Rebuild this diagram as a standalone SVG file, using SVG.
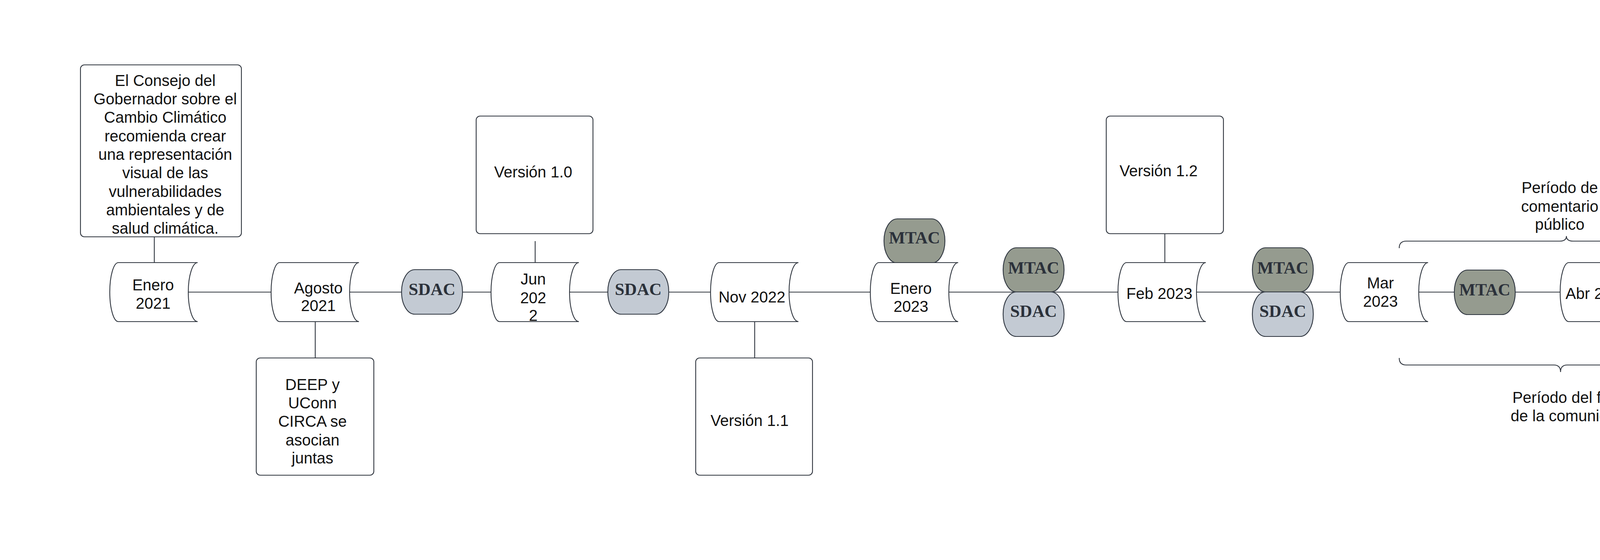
<svg xmlns="http://www.w3.org/2000/svg" xmlns:xlink="http://www.w3.org/1999/xlink" width="5803" height="1433" viewBox="0 0 5803 1433">
<style>
.ln{stroke:#30363f;stroke-width:2.2;fill:none}
.box{fill:#fff;stroke:#30363f;stroke-width:2.2}
.t{font-family:"Liberation Sans",Arial,sans-serif;font-size:40px;fill:#111;text-anchor:middle}
.pt{font-family:"Liberation Serif","Times New Roman",serif;font-weight:bold;font-size:44px;fill:#2b313a;text-anchor:middle}
.mtac{fill:#959b8f;stroke:#2f3640;stroke-width:2.2}
.sdac{fill:#c3cad3;stroke:#2f3640;stroke-width:2.2}
</style>
<defs>
<path id="sd" d="M22,0 H225 A24 75.5 0 0 0 225,151 H22 A22 75.5 0 0 1 22,0 Z" fill="#fff" stroke="#30363f" stroke-width="2.2"/>
<marker id="arr" markerUnits="userSpaceOnUse" markerWidth="32" markerHeight="24" refX="16" refY="11" orient="auto">
<path d="M0,0 L30,11 L0,22 Z" fill="#2b313b"/>
</marker>
</defs>
<rect width="5803" height="1433" fill="#fff"/>
<g id="connectors">
<line class="ln" x1="483" y1="747.5" x2="5590" y2="747.5" marker-end="url(#arr)"/>
<line class="ln" x1="395" y1="606" x2="395" y2="672"/>
<line class="ln" x1="807" y1="823" x2="807" y2="916"/>
<line class="ln" x1="1370" y1="617" x2="1370" y2="672"/>
<line class="ln" x1="1932" y1="823" x2="1932" y2="916"/>
<line class="ln" x1="2982" y1="598" x2="2982" y2="672"/>
<line class="ln" x1="5044" y1="598" x2="5044" y2="672"/>
<line class="ln" x1="5381" y1="842" x2="5381" y2="916"/>
</g>
<g id="note-consejo">
<rect class="box" x="206" y="166" width="412" height="440" rx="10"/>
<text class="t"><tspan x="423" y="220">El Consejo del</tspan><tspan x="423" y="267">Gobernador sobre el</tspan><tspan x="423" y="314">Cambio Climático</tspan><tspan x="423" y="362">recomienda crear</tspan><tspan x="423" y="409">una representación</tspan><tspan x="423" y="456">visual de las</tspan><tspan x="423" y="504">vulnerabilidades</tspan><tspan x="423" y="551">ambientales y de</tspan><tspan x="423" y="598">salud climática.</tspan></text>
</g>
<g id="date-enero-2021">
<use xlink:href="#sd" x="281" y="672"/>
<text class="t"><tspan x="392" y="743">Enero</tspan><tspan x="392" y="790">2021</tspan></text>
</g>
<g id="date-agosto-2021">
<use xlink:href="#sd" x="694" y="672"/>
<text class="t"><tspan x="815" y="751">Agosto</tspan><tspan x="815" y="796">2021</tspan></text>
</g>
<g id="note-deep">
<rect class="box" x="656" y="916" width="301" height="300" rx="10"/>
<text class="t"><tspan x="800" y="998">DEEP y</tspan><tspan x="800" y="1045">UConn</tspan><tspan x="800" y="1092">CIRCA se</tspan><tspan x="800" y="1140">asocian</tspan><tspan x="800" y="1186">juntas</tspan></text>
</g>
<g id="sdac-1">
<rect class="sdac" x="1028" y="690" width="156" height="114" rx="34" ry="56"/>
<text class="pt" x="1106" y="755">SDAC</text>
</g>
<g id="note-v10">
<rect class="box" x="1219" y="297" width="299" height="301" rx="10"/>
<text class="t" x="1365" y="454">Versión 1.0</text>
</g>
<g id="date-jun-2022">
<use xlink:href="#sd" x="1257" y="672"/>
<text class="t"><tspan x="1365" y="728">Jun</tspan><tspan x="1365" y="776">202</tspan><tspan x="1365" y="821">2</tspan></text>
</g>
<g id="sdac-2">
<rect class="sdac" x="1556" y="690" width="156" height="114" rx="34" ry="56"/>
<text class="pt" x="1634" y="755">SDAC</text>
</g>
<g id="date-nov-2022">
<use xlink:href="#sd" x="1819" y="672"/>
<text class="t" x="1925" y="774">Nov 2022</text>
</g>
<g id="note-v11">
<rect class="box" x="1781" y="916" width="299" height="300" rx="10"/>
<text class="t" x="1919" y="1090">Versión 1.1</text>
</g>
<g id="mtac-1">
<rect class="mtac" x="2263" y="560" width="156" height="113" rx="34" ry="56"/>
<text class="pt" x="2341" y="623">MTAC</text>
</g>
<g id="date-enero-2023">
<use xlink:href="#sd" x="2228" y="672"/>
<text class="t"><tspan x="2332" y="752">Enero</tspan><tspan x="2332" y="798">2023</tspan></text>
</g>
<g id="stack-1">
<rect class="mtac" x="2568" y="634" width="156" height="113" rx="34" ry="56"/>
<text class="pt" x="2646" y="700">MTAC</text>
<rect class="sdac" x="2568" y="747" width="156" height="114" rx="34" ry="56"/>
<text class="pt" x="2646" y="811">SDAC</text>
</g>
<g id="date-feb-2023">
<use xlink:href="#sd" x="2862" y="672"/>
<text class="t" x="2968" y="765">Feb 2023</text>
</g>
<g id="note-v12">
<rect class="box" x="2832" y="297" width="300" height="301" rx="10"/>
<text class="t" x="2966" y="451">Versión 1.2</text>
</g>
<g id="stack-2">
<rect class="mtac" x="3206" y="634" width="156" height="113" rx="34" ry="56"/>
<text class="pt" x="3284" y="700">MTAC</text>
<rect class="sdac" x="3206" y="747" width="156" height="114" rx="34" ry="56"/>
<text class="pt" x="3284" y="811">SDAC</text>
</g>
<g id="date-mar-2023">
<use xlink:href="#sd" x="3431" y="672"/>
<text class="t"><tspan x="3534" y="738">Mar</tspan><tspan x="3534" y="785">2023</tspan></text>
</g>
<g id="mtac-2">
<rect class="mtac" x="3723" y="691" width="156" height="114" rx="34" ry="56"/>
<text class="pt" x="3801" y="756">MTAC</text>
</g>
<g id="date-abr-2023">
<use xlink:href="#sd" x="3994" y="672"/>
<text class="t" x="4089" y="765">Abr 2023</text>
</g>
<g id="date-mayo-2023">
<use xlink:href="#sd" x="4331" y="672"/>
<text class="t"><tspan x="4429" y="730">Mayo</tspan><tspan x="4429" y="778">2023</tspan></text>
</g>
<g id="stack-3">
<rect class="mtac" x="4661" y="634" width="156" height="113" rx="34" ry="56"/>
<text class="pt" x="4739" y="700">MTAC</text>
<rect class="sdac" x="4661" y="747" width="156" height="114" rx="34" ry="56"/>
<text class="pt" x="4739" y="811">SDAC</text>
</g>
<g id="date-jun-2023">
<use xlink:href="#sd" x="4931" y="672"/>
<text class="t"><tspan x="5036" y="736">Jun</tspan><tspan x="5036" y="783">2023</tspan></text>
</g>
<g id="note-v20">
<rect class="box" x="4894" y="297" width="300" height="301" rx="10"/>
<text class="t" x="5035" y="454">Versión 2.0</text>
</g>
<g id="date-agosto-2023">
<use xlink:href="#sd" x="5269" y="691"/>
<text class="t"><tspan x="5379" y="751">Agosto</tspan><tspan x="5379" y="797">2023</tspan></text>
</g>
<g id="note-lanzamiento">
<rect class="box" x="5232" y="916" width="300" height="300" rx="10"/>
<text class="t"><tspan x="5385" y="967">Lanzamiento del</tspan><tspan x="5385" y="1014">visor de mapas</tspan><tspan x="5385" y="1061">y fin del</tspan><tspan x="5385" y="1108">proyecto de la</tspan><tspan x="5385" y="1156">herramienta de</tspan><tspan x="5385" y="1202">mapeo</tspan></text>
</g>
<g id="brace-comentario">
<path class="ln" d="M3582,635 Q3582,617 3600,617 H3993 Q4010,617 4010,604 Q4010,617 4027,617 H4425 Q4443,617 4443,635"/>
<text class="t"><tspan x="3993" y="494">Período de</tspan><tspan x="3993" y="542">comentario</tspan><tspan x="3993" y="588">público</tspan></text>
</g>
<g id="brace-foro">
<path class="ln" d="M3582,916 Q3582,934 3600,934 H3978 Q3995,934 3995,952 Q3995,934 4012,934 H4388 Q4406,934 4406,916"/>
<text class="t"><tspan x="4014" y="1031">Período del foro</tspan><tspan x="4014" y="1078">de la comunidad</tspan></text>
</g>
</svg>
